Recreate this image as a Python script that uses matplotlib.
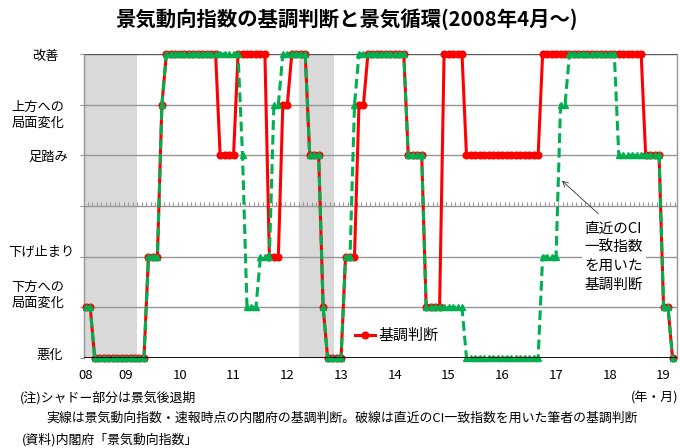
import matplotlib
matplotlib.use("Agg")
import matplotlib.pyplot as plt
from matplotlib.lines import Line2D
import numpy as np
import pandas as pd

plt.rcParams['font.family'] = ['Noto Sans CJK JP', 'DejaVu Sans']

# ---- data ---------------------------------------------------------------
# levels: 0=悪化, 1=下方への局面変化, 2=下げ止まり, 4=足踏み, 5=上方への局面変化, 6=改善
start_month = "2008-04"
end_month = "2019-03"

level_names = ["悪化", "下方への\n局面変化", "下げ止まり", "足踏み", "上方への\n局面変化", "改善"]
level_values = [0, 1, 2, 4, 5, 6]

# official judgment (preliminary release), monthly
official_2008 = [1, 1, 0, 0, 0, 0, 0, 0, 0]
official_2009 = [0, 0, 0, 0, 0, 2, 2, 2, 5, 6, 6, 6]
official_2010 = [6, 6, 6, 6, 6, 6, 6, 6, 6, 4, 4, 4]
official_2011 = [4, 6, 6, 6, 6, 6, 6, 6, 2, 2, 2, 5]
official_2012 = [5, 6, 6, 6, 6, 4, 4, 4, 1, 0, 0, 0]
official_2013 = [0, 2, 2, 2, 5, 5, 6, 6, 6, 6, 6, 6]
official_2014 = [6, 6, 6, 4, 4, 4, 4, 1, 1, 1, 1, 6]
official_2015 = [6, 6, 6, 6, 4, 4, 4, 4, 4, 4, 4, 4]
official_2016 = [4, 4, 4, 4, 4, 4, 4, 4, 4, 6, 6, 6]
official_2017 = [6, 6, 6, 6, 6, 6, 6, 6, 6, 6, 6, 6]
official_2018 = [6, 6, 6, 6, 6, 6, 6, 6, 4, 4, 4, 4]
official_2019 = [1, 1, 0]

# judgment recomputed from the latest CI coincident index, monthly
latest_2008 = [1, 1, 0, 0, 0, 0, 0, 0, 0]
latest_2009 = [0, 0, 0, 0, 0, 2, 2, 2, 5, 6, 6, 6]
latest_2010 = [6, 6, 6, 6, 6, 6, 6, 6, 6, 6, 6, 6]
latest_2011 = [6, 6, 4, 1, 1, 1, 2, 2, 2, 5, 5, 6]
latest_2012 = [6, 6, 6, 6, 6, 4, 4, 4, 1, 0, 0, 0]
latest_2013 = [0, 2, 2, 5, 6, 6, 6, 6, 6, 6, 6, 6]
latest_2014 = [6, 6, 6, 4, 4, 4, 4, 1, 1, 1, 1, 1]
latest_2015 = [1, 1, 1, 1, 0, 0, 0, 0, 0, 0, 0, 0]
latest_2016 = [0, 0, 0, 0, 0, 0, 0, 0, 0, 2, 2, 2]
latest_2017 = [2, 5, 5, 6, 6, 6, 6, 6, 6, 6, 6, 6]
latest_2018 = [6, 6, 4, 4, 4, 4, 4, 4, 4, 4, 4, 4]
latest_2019 = [1, 1, 0]

# recession periods (first and last month)
recessions = [("2008-04", "2009-03"), ("2012-04", "2012-11")]

official = (official_2008 + official_2009 + official_2010 + official_2011 + official_2012
            + official_2013 + official_2014 + official_2015 + official_2016 + official_2017
            + official_2018 + official_2019)
latest = (latest_2008 + latest_2009 + latest_2010 + latest_2011 + latest_2012
          + latest_2013 + latest_2014 + latest_2015 + latest_2016 + latest_2017
          + latest_2018 + latest_2019)

months = pd.period_range(start_month, end_month, freq="M")
x = np.arange(len(months))

# ---- figure -------------------------------------------------------------
fig = plt.figure(figsize=(6.8, 4.48), dpi=100)
ax = fig.add_axes([83.5 / 680, 1 - 358 / 448, (677 - 83.5) / 680, (358 - 54) / 448])

RED = "#FF0000"
GREEN = "#00B050"
GRID = "#969696"

for a, b in recessions:
    i0 = months.get_loc(pd.Period(a, "M"))
    i1 = months.get_loc(pd.Period(b, "M"))
    ax.axvspan(i0 - 0.5, i1 + 0.5, color="#D9D9D9", lw=0, zorder=0)

for lv in [1, 2, 4, 5]:
    ax.axhline(lv, color=GRID, lw=1.0, zorder=1)
ax.axhline(6, color="#595959", lw=1.0, zorder=1)
ax.axhline(0, color="black", lw=1.3, zorder=5)
# middle divider with monthly tick marks
ax.axhline(3, color=GRID, lw=1.0, zorder=1)
ax.vlines(x + 0.5, 3, 3.075, color=GRID, lw=0.8, zorder=1)

ax.plot(x, official, color=RED, lw=2.2, marker="o", ms=4.8, mec=RED, mfc=RED,
        zorder=3, clip_on=False)
ax.plot(x, latest, color=GREEN, lw=2.2, ls=(0, (3.2, 1.6)), marker="^", ms=5,
        mec=GREEN, mfc=GREEN, zorder=4, clip_on=False)

ax.set_xlim(-0.5, 132)
ax.set_ylim(0, 6)

for s in ["top", "bottom"]:
    ax.spines[s].set_visible(False)
ax.spines["left"].set_color(GRID)
ax.spines["right"].set_color(GRID)
ax.spines["left"].set_linewidth(1.0)
ax.spines["right"].set_linewidth(1.0)

# year ticks: first month and every January
tick_pos = [i for i, m in enumerate(months) if i == 0 or m.month == 1]
tick_lab = [f"{months[i].year % 100:02d}" for i in tick_pos]
ax.set_xticks(tick_pos)
ax.set_xticklabels(tick_lab, fontsize=9.5)
ax.tick_params(axis="x", length=0, pad=8)

ax.set_yticks([0, 1, 2, 3, 4, 5, 6])
ax.set_yticklabels([])
ax.tick_params(axis="y", length=3, color=GRID, direction="out")

# level labels
label_offsets = {0: (-24.7, 2), 1: (-33, 8.5), 2: (-30.5, 3), 4: (-25, -1.5), 5: (-33, -7.5), 6: (-27.7, -2)}
for name, lv in zip(level_names, level_values):
    dx, dy = label_offsets[lv]
    ax.annotate(name, xy=(0, lv), xycoords=("axes fraction", "data"),
                xytext=(dx, dy), textcoords="offset points",
                ha="center", va="center", fontsize=9.5, linespacing=1.3,
                annotation_clip=False)

# legend
handle = Line2D([], [], color=RED, lw=2.2, marker="o", ms=4.8)
ax.legend([handle], ["基調判断"], loc="center left",
          bbox_to_anchor=(355 / 680, 1 - 336 / 448), bbox_transform=fig.transFigure,
          frameon=False, fontsize=10.8, handlelength=1.3, handletextpad=0.25,
          borderpad=0, borderaxespad=0)

# annotation for the dashed line
ax.text(111.3, 2.69, "直近のCI\n一致指数\nを用いた\n基調判断", ha="left", va="top",
        fontsize=10.5, linespacing=1.42, zorder=6,
        bbox=dict(fc="white", ec="none", pad=2))
ax.annotate("", xy=(106.3, 3.5), xytext=(114.4, 2.85),
            arrowprops=dict(arrowstyle="->", lw=0.6, color="#333333",
                            shrinkA=0, shrinkB=0), zorder=7)

# title and notes
fig.text(347 / 680, 1 - 19 / 448, "景気動向指数の基調判断と景気循環(2008年4月～)",
         ha="center", va="center", fontsize=14.7, fontweight="bold")
fig.text(20 / 680, 1 - 398 / 448, "(注)シャドー部分は景気後退期", ha="left", va="center", fontsize=9.3)
fig.text(679 / 680, 1 - 398 / 448, "(年・月)", ha="right", va="center", fontsize=9.3)
fig.text(46 / 680, 1 - 418 / 448,
         "実線は景気動向指数・速報時点の内閣府の基調判断。破線は直近のCI一致指数を用いた筆者の基調判断",
         ha="left", va="center", fontsize=9.3)
fig.text(22 / 680, 1 - 440 / 448, "(資料)内閣府「景気動向指数」", ha="left", va="center", fontsize=9.3)

fig.savefig("out.png", dpi=100)
